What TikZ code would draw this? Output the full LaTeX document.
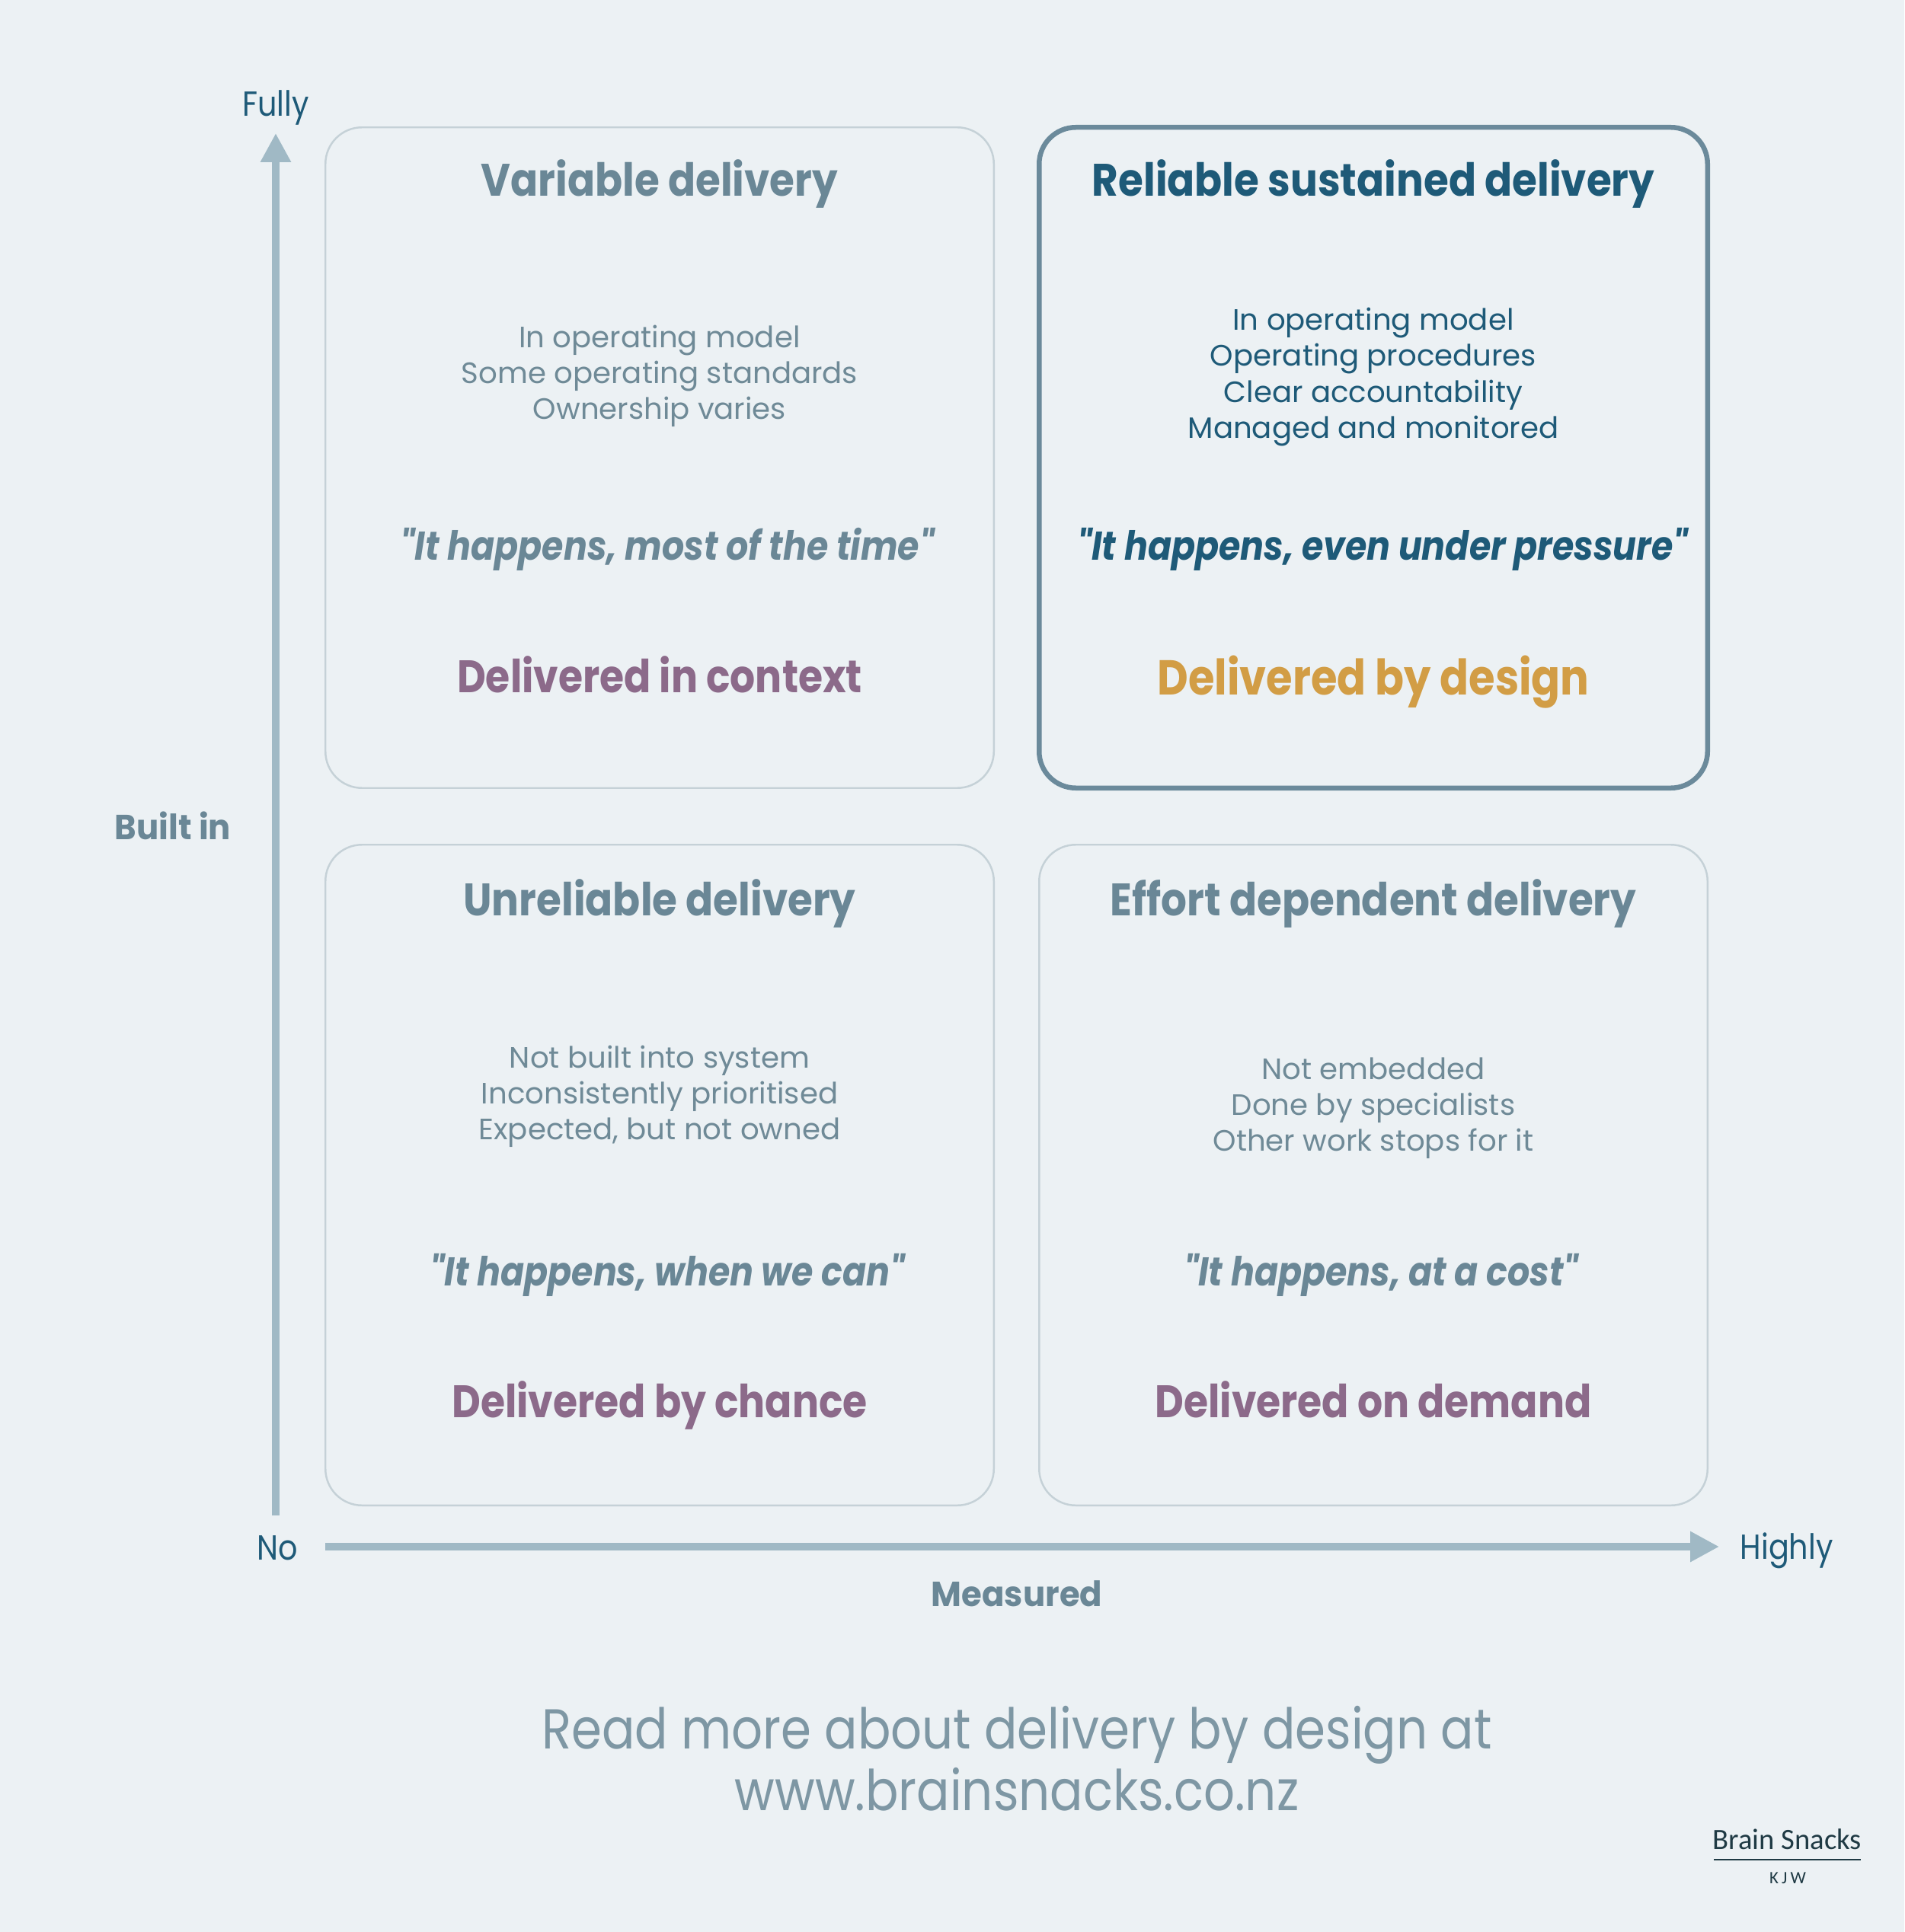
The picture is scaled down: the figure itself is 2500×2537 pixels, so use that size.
\documentclass[tikz,border=0pt]{standalone}
\usepackage{fontspec}
\setmainfont{Poppins}
\newfontfamily\titlef{Poppins}[FakeStretch=0.89]
\newfontfamily\narrowf{Poppins}[FakeStretch=0.87]
\newfontfamily\axf{Poppins}[FakeStretch=0.95]
\newfontfamily\logofont{Carlito}
\usetikzlibrary{arrows.meta}
\definecolor{bgc}{HTML}{ECF1F4}
\definecolor{arrowc}{HTML}{A0B9C5}
\definecolor{lightb}{HTML}{C5D1D7}
\definecolor{darkb}{HTML}{6B8A9B}
\definecolor{slate}{HTML}{6A8796}
\definecolor{bodyc}{HTML}{6F8A97}
\definecolor{teal}{HTML}{1E5A78}
\definecolor{purp}{HTML}{8C6A8A}
\definecolor{gold}{HTML}{D29D45}
\definecolor{footc}{HTML}{7E97A4}
\definecolor{logoc}{HTML}{1F3A44}
\tikzset{
  quad/.style={draw=lightb, line width=0.7pt, rounded corners=0.48cm, minimum width=8.77cm, minimum height=8.67cm, inner sep=0pt},
  quadhi/.style={quad, draw=darkb, line width=1.85pt},
  ttl/.style={font=\titlef\bfseries\fontsize{17}{20}\selectfont, text=slate, inner sep=0pt, anchor=base},
  bodytxt/.style={font=\fontsize{11}{13.4}\selectfont, text=bodyc, align=center, inner sep=0pt},
  quote/.style={font=\narrowf\bfseries\itshape\fontsize{15}{18}\selectfont, text=slate, inner sep=0pt, anchor=base},
  verdict/.style={font=\narrowf\bfseries\fontsize{17}{20}\selectfont, text=purp, inner sep=0pt, anchor=base},
  axlab/.style={font=\narrowf\fontsize{13}{15}\selectfont, text=teal, inner sep=0pt},
  axname/.style={font=\axf\bfseries\fontsize{13}{15}\selectfont, text=slate, inner sep=0pt},
  foot/.style={font=\narrowf\fontsize{21}{23}\selectfont, text=footc, inner sep=0pt, anchor=base},
  axis/.style={draw=arrowc, line width=2.6pt, -{Triangle[length=10.8pt,width=10.8pt]}}
}
\begin{document}
\begin{tikzpicture}[x=0.01cm,y=-0.01cm]
\fill[bgc] (0,0) rectangle (2500,2537);
\useasboundingbox (0,0) rectangle (2500,2537);
% quadrants
\node[quad] (tl) at (866,601) {};
\node[quadhi] (tr) at (1803,601) {};
\node[quad] (bl) at (866,1543) {};
\node[quad] (br) at (1803,1543) {};
% axes
\coordinate (o1) at (362,1990);
\coordinate (ytip) at (362,175);
\coordinate (o2) at (427,2031);
\coordinate (xtip) at (2257,2031);
\draw[axis] (o1) -- (ytip);
\draw[axis] (o2) -- (xtip);
\node[axlab] (fully) at (362,141) {Fully};
\node[axlab] (no) at (364,2033) {No};
\node[axlab, anchor=west] (highly) at (2284,2036) {Highly};
\node[axname] (builtin) at (227,1084) {Built in};
\node[axname] (measured) at (1335,2093) {Measured};
% TL
\node[ttl] (t1) at (866,258) {Variable delivery};
\node[bodytxt] (b1) at (866,494) {In operating model\\Some operating standards\\Ownership varies};
\node[quote] (q1) at (876,735) {"It happens, most of the time"};
\node[verdict] (v1) at (866,909) {Delivered in context};
% TR
\node[ttl, text=teal] (t2) at (1803,258) {Reliable sustained delivery};
\node[bodytxt, text=teal] (b2) at (1803,495) {In operating model\\Operating procedures\\Clear accountability\\Managed and monitored};
\node[quote, text=teal] (q2) at (1815,735) {"It happens, even under pressure"};
\node[verdict, text=gold, font=\narrowf\bfseries\fontsize{18.3}{21}\selectfont] (v2) at (1803,912) {Delivered by design};
% BL
\node[ttl] (t3) at (866,1202) {Unreliable delivery};
\node[bodytxt] (b3) at (866,1440) {Not built into system\\Inconsistently prioritised\\Expected, but not owned};
\node[quote] (q3) at (876,1688) {"It happens, when we can"};
\node[verdict] (v3) at (866,1861) {Delivered by chance};
% BR
\node[ttl] (t4) at (1803,1202) {Effort dependent delivery};
\node[bodytxt] (b4) at (1803,1455) {Not embedded\\Done by specialists\\Other work stops for it};
\node[quote] (q4) at (1813,1688) {"It happens, at a cost"};
\node[verdict] (v4) at (1803,1861) {Delivered on demand};
% footer
\node[foot] (f1) at (1335,2296) {Read more about delivery by design at};
\node[foot] (f2) at (1335,2377) {www.brainsnacks.co.nz};
% logo
\node[font=\logofont\fontsize{11}{13}\selectfont, text=logoc, inner sep=0pt, anchor=base] (logo) at (2346,2428) {Brain Snacks};
\coordinate (ll) at (2250,2442);
\coordinate (lr) at (2443,2442);
\draw[logoc, line width=0.6pt] (ll) -- (lr);
\node[font=\logofont\fontsize{6.5}{8}\selectfont, text=logoc, inner sep=0pt, anchor=base] (kjw) at (2347,2473) {K\kern1.2pt J\kern1.2pt W};
\end{tikzpicture}
\end{document}
